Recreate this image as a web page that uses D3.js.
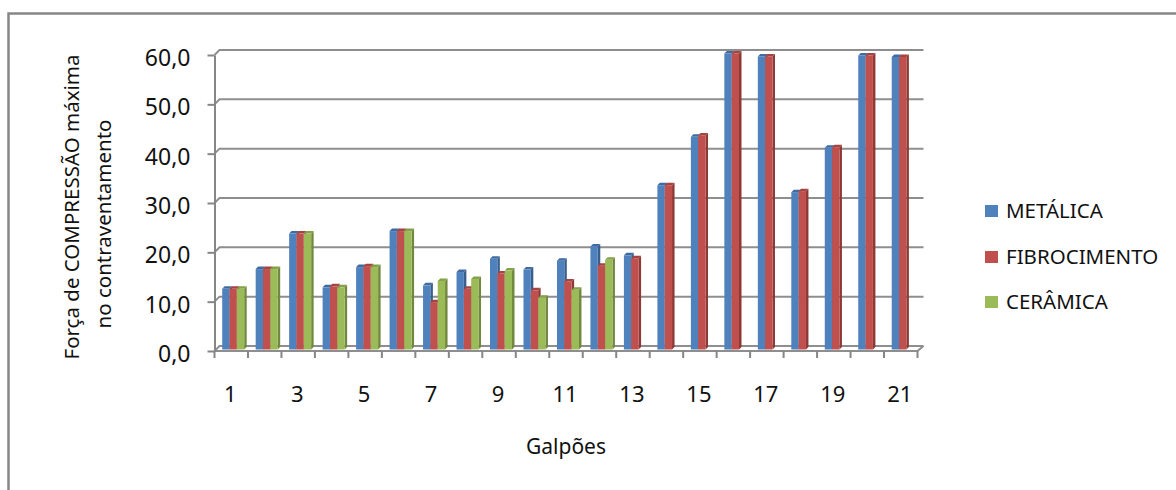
<!DOCTYPE html>
<html>
<head>
<meta charset="utf-8">
<script src="https://cdn.jsdelivr.net/npm/d3@7"></script>
<style>
  body { margin: 0; background: #fff; }
  svg { display: block; font-family: "Noto Sans", "Open Sans", sans-serif; }
  .tick text { fill: #111; }
</style>
</head>
<body>
<div id="chart"></div>
<script>
// data
var galpoes = [1,2,3,4,5,6,7,8,9,10,11,12,13,14,15,16,17,18,19,20,21];
var metalica     = [12.3,16.3,23.5,12.6,16.7,24.0,13.0,15.7,18.4,16.2,18.0,20.9,19.1,33.3,43.1,60.0,59.4,31.9,40.9,59.6,59.3];
var fibrocimento = [12.3,16.3,23.5,12.8,16.9,24.0, 9.6,12.3,15.4,12.0,13.8,17.0,18.5,33.3,43.4,60.0,59.4,32.1,41.0,59.6,59.3];
var ceramica     = [12.3,16.3,23.5,12.6,16.7,24.0,13.9,14.3,16.0,10.5,12.1,18.2,null,null,null,null,null,null,null,null,null];
var seriesNames = ["METÁLICA", "FIBROCIMENTO", "CERÂMICA"];
var yTicks = [0,10,20,30,40,50,60];
var xLabels = [1,3,5,7,9,11,13,15,17,19,21];

var colors = {
  "METÁLICA":     {front: "#4F81BD", side: "#385E8C", top: "#3F6BA0"},
  "FIBROCIMENTO": {front: "#C0504D", side: "#8D3936", top: "#A54340"},
  "CERÂMICA":     {front: "#9BBB59", side: "#71893F", top: "#84A14A"}
};

var width = 1176, height = 490;
var depth = 5;      // wall depth (front axis -> back wall)
var bd = 2.5;       // bar extrusion

var svg = d3.select('#chart')
  .append('svg')
  .attr('width', width)
  .attr('height', height);

// outer chart border (runs off the right and bottom edges)
svg.append('rect')
  .attr('x', 8.5).attr('y', 13.5)
  .attr('width', 1300).attr('height', 600)
  .attr('fill', 'none')
  .attr('stroke', '#878787')
  .attr('stroke-width', 2.5);

// scales
var x = d3.scaleBand()
  .domain(galpoes)
  .range([214.5, 917.5])
  .padding(0);

var inner = d3.scaleBand()
  .domain(seriesNames)
  .range([7.7, 7.7 + 22]);

var y = d3.scaleLinear()
  .domain([0, 60])
  .range([351, 55]);

var fmt = function(v) { return d3.format(".1f")(v).replace('.', ','); };

// gridlines on the back wall, with the little diagonal to the front axis
svg.append('g')
  .selectAll('path')
  .data(yTicks)
  .enter()
  .append('path')
  .attr('fill', 'none')
  .attr('stroke', '#8e8e8e')
  .attr('stroke-width', 2)
  .attr('d', function(d) {
    var yy = y(d);
    return "M" + x.range()[0] + "," + yy +
           "L" + (x.range()[0] + depth) + "," + (yy - depth) +
           "L" + (x.range()[1] + depth + 1) + "," + (yy - depth);
  });

// floor front edge and right diagonal
svg.append('path')
  .attr('fill', 'none')
  .attr('stroke', '#8e8e8e')
  .attr('stroke-width', 2)
  .attr('d', "M" + x.range()[0] + "," + y(0) +
             "L" + x.range()[1] + "," + y(0) +
             "L" + (x.range()[1] + depth + 1) + "," + (y(0) - depth));

// Y axis
var yAxis = svg.append('g')
  .attr('transform', 'translate(' + x.range()[0] + ',0)')
  .call(d3.axisLeft(y).tickValues(yTicks).tickFormat(fmt).tickSizeInner(7).tickSizeOuter(0).tickPadding(17));
yAxis.select('.domain').attr('stroke', '#868686').attr('stroke-width', 2);
yAxis.selectAll('.tick line').attr('stroke', '#868686').attr('stroke-width', 2);
yAxis.selectAll('.tick text')
  .attr('font-size', 23)
  .attr('font-family', '"Noto Sans", sans-serif')
  .attr('dy', '0.32em')
  .attr('transform', 'translate(0,3)');

// X axis ticks at category boundaries
var bounds = galpoes.map(function(d) { return x(d); }).concat([x.range()[1]]);
svg.append('g')
  .selectAll('line')
  .data(bounds)
  .enter()
  .append('line')
  .attr('x1', function(d) { return d; })
  .attr('x2', function(d) { return d; })
  .attr('y1', y(0))
  .attr('y2', y(0) + 7)
  .attr('stroke', '#868686')
  .attr('stroke-width', 2);

// X labels (odd categories only)
svg.append('g')
  .selectAll('text')
  .data(xLabels)
  .enter()
  .append('text')
  .attr('x', function(d) { return x(d) + x.bandwidth() / 2 - 1; })
  .attr('y', 394)
  .attr('dy', '0.35em')
  .attr('text-anchor', 'middle')
  .attr('font-size', 22)
  .attr('fill', '#111')
  .text(function(d) { return d; });

// bars
var seriesData = [metalica, fibrocimento, ceramica];
var barW = inner.bandwidth();
seriesNames.forEach(function(name, si) {
  var vals = seriesData[si];
  var rows = galpoes.map(function(g, i) { return {g: g, v: vals[i]}; })
    .filter(function(d) { return d.v !== null; });
  var c = colors[name];
  var g = svg.append('g').attr('class', 'series');

  var bar = g.selectAll('g.bar')
    .data(rows)
    .enter()
    .append('g')
    .attr('class', 'bar')
    .attr('transform', function(d) { return 'translate(' + (x(d.g) + inner(name)) + ',-1.5)'; });

  // side face
  bar.append('path')
    .attr('fill', c.side)
    .attr('d', function(d) {
      var t = y(d.v), b = y(0);
      return "M" + barW + "," + t + "L" + (barW + bd) + "," + (t - bd) +
             "L" + (barW + bd) + "," + (b - bd) + "L" + barW + "," + b + "Z";
    });
  // top face
  bar.append('path')
    .attr('fill', c.top)
    .attr('d', function(d) {
      var t = y(d.v);
      return "M0," + t + "L" + bd + "," + (t - bd) + "L" + (barW + bd) + "," + (t - bd) +
             "L" + barW + "," + t + "Z";
    });
  // front face
  bar.append('rect')
    .attr('x', 0)
    .attr('y', function(d) { return y(d.v); })
    .attr('width', barW)
    .attr('height', function(d) { return y(0) - y(d.v); })
    .attr('fill', c.front);
});

// axis titles
svg.append('text')
  .attr('transform', 'translate(72,207) rotate(-90)')
  .attr('text-anchor', 'middle')
  .attr('dy', '0.35em')
  .attr('font-size', 20.5)
  .attr('fill', '#111')
  .text('Força de COMPRESSÃO máxima');
svg.append('text')
  .attr('transform', 'translate(104,224) rotate(-90)')
  .attr('text-anchor', 'middle')
  .attr('dy', '0.35em')
  .attr('font-size', 20.5)
  .attr('fill', '#111')
  .text('no contraventamento');

svg.append('text')
  .attr('x', 566)
  .attr('y', 447)
  .attr('dy', '0.35em')
  .attr('text-anchor', 'middle')
  .attr('font-size', 21)
  .attr('fill', '#111')
  .text('Galpões');

// legend
var legend = svg.append('g')
  .selectAll('g')
  .data(seriesNames)
  .enter()
  .append('g')
  .attr('transform', function(d, i) { return 'translate(985,' + [211, 257, 302][i] + ')'; });
legend.append('rect')
  .attr('x', 0).attr('y', -6)
  .attr('width', 13).attr('height', 12)
  .attr('fill', function(d) { return colors[d].front; });
legend.append('text')
  .attr('x', 21)
  .attr('y', 0)
  .attr('dy', '0.36em')
  .attr('font-size', 20.5)
  .attr('fill', '#111')
  .text(function(d) { return d; });
</script>
</body>
</html>
